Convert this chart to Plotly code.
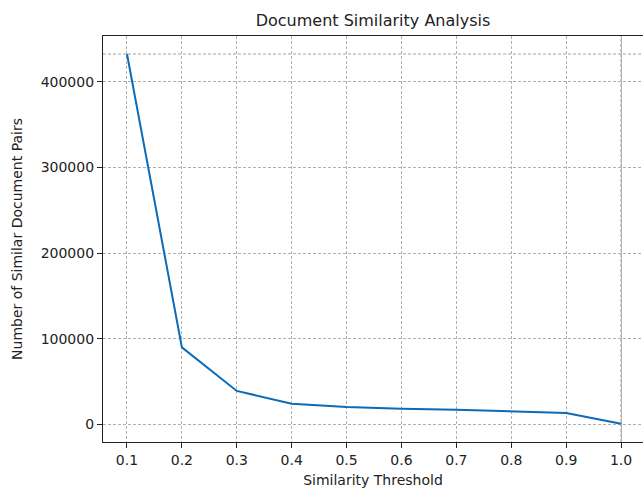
import plotly.graph_objects as go

thresholds = [0.1, 0.2, 0.3, 0.4, 0.5, 0.6, 0.7, 0.8, 0.9, 1.0]
pair_counts = [432300, 90000, 39200, 24300, 20500, 18400, 17300, 15800, 13500, 800]
x_tick_labels = ["0.1", "0.2", "0.3", "0.4", "0.5", "0.6", "0.7", "0.8", "0.9", "1.0"]
y_tick_values = [0, 100000, 200000, 300000, 400000]
y_tick_labels = ["0", "100000", "200000", "300000", "400000"]

FONT = "DejaVu Sans"
DASH = "3px,2px"

fig = go.Figure()
fig.add_trace(go.Scatter(
    x=thresholds, y=pair_counts, mode="lines",
    line=dict(color="#0d6ab5", width=2), showlegend=False,
))

# reference lines (darker dashed)
fig.add_shape(type="line", xref="paper", yref="y", x0=0, x1=1,
              y0=0, y1=0, line=dict(color="#808080", width=1, dash=DASH), layer="below")
fig.add_shape(type="line", xref="paper", yref="y", x0=0, x1=1,
              y0=max(pair_counts), y1=max(pair_counts),
              line=dict(color="#999999", width=0.9, dash=DASH), layer="below")
fig.add_shape(type="line", xref="x", yref="paper", x0=thresholds[-1], x1=thresholds[-1],
              y0=0, y1=1, line=dict(color="#808080", width=1, dash=DASH), layer="below")

fig.update_layout(
    width=643, height=490,
    margin=dict(l=103, r=0, t=36, b=48),
    paper_bgcolor="white", plot_bgcolor="white",
    font=dict(family=FONT, size=14, color="#222222"),
    title=dict(text="Document Similarity Analysis", x=0.5, xref="paper",
               y=1 - 20 / 490, yref="container", yanchor="middle", xanchor="center",
               font=dict(family=FONT, size=16, color="#222222")),
)
fig.update_xaxes(
    range=[0.0563, 1.0399],
    tickmode="array", tickvals=thresholds, ticktext=x_tick_labels,
    ticks="outside", ticklen=5, tickwidth=1, tickcolor="#222222",
    showline=True, linecolor="#222222", linewidth=1.2, mirror=True,
    showgrid=True, gridcolor="#b0b0b0", gridwidth=0.8, griddash=DASH,
    zeroline=False,
    title=dict(text="Similarity Threshold", standoff=8, font=dict(size=14)),
    tickfont=dict(size=14),
)
fig.update_yaxes(
    range=[-20400, 453300],
    tickmode="array", tickvals=y_tick_values, ticktext=y_tick_labels,
    ticks="outside", ticklen=5, tickwidth=1, tickcolor="#222222",
    showline=True, linecolor="#222222", linewidth=1.2,
    showgrid=True, gridcolor="#b0b0b0", gridwidth=0.8, griddash=DASH,
    zeroline=False,
    title=dict(text="Number of Similar Document Pairs", standoff=14, font=dict(size=14)),
    tickfont=dict(size=14),
)

fig.write_html("out.html")
